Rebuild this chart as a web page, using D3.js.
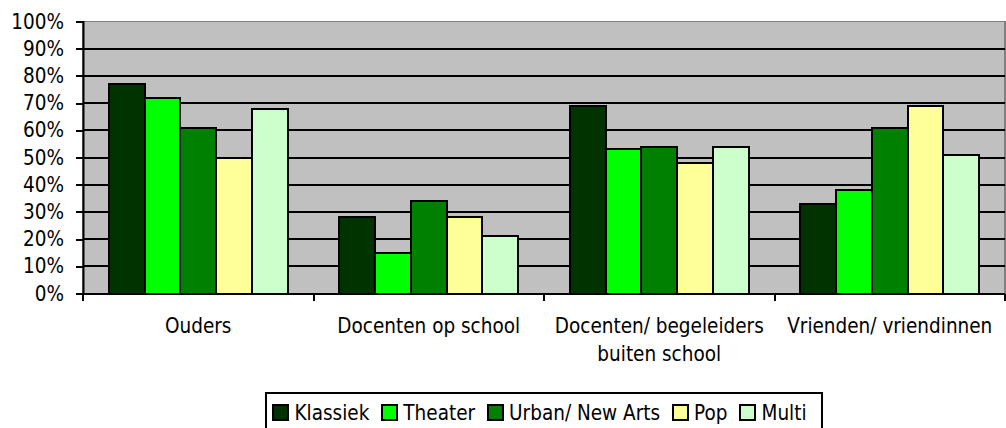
<!DOCTYPE html>
<html>
<head>
<meta charset="utf-8">
<script src="https://d3js.org/d3.v7.min.js"></script>
<style>
  body { margin: 0; background: #fff; }
  svg { display: block; }
  text { font-family: "DejaVu Sans Condensed", "DejaVu Sans", sans-serif; font-stretch: condensed; font-size: 20.5px; fill: #000; }
  line, .bar, .frame { shape-rendering: crispEdges; }
</style>
</head>
<body>
<svg width="1006" height="428"></svg>
<script>
// chart data
var categories = ["Ouders", "Docenten op school", "Docenten/ begeleiders buiten school", "Vrienden/ vriendinnen"];
var categoryLines = [["Ouders"], ["Docenten op school"], ["Docenten/ begeleiders", "buiten school"], ["Vrienden/ vriendinnen"]];
var series = ["Klassiek", "Theater", "Urban/ New Arts", "Pop", "Multi"];
var seriesColors = ["#003300", "#00ff00", "#008000", "#ffff99", "#ccffcc"];
var klassiek = [77, 28, 69, 33];
var theater = [72, 15, 53, 38];
var urban = [61, 34, 54, 61];
var pop = [50, 28, 48, 69];
var multi = [68, 21, 54, 51];
var yTicks = [0, 10, 20, 30, 40, 50, 60, 70, 80, 90, 100];

var values = [klassiek, theater, urban, pop, multi];

var svg = d3.select("svg"),
    margin = {top: 21.5, right: 1, bottom: 134.5, left: 83},
    width = +svg.attr("width") - margin.left - margin.right,
    height = +svg.attr("height") - margin.top - margin.bottom;

var g = svg.append("g")
    .attr("transform", "translate(" + margin.left + "," + margin.top + ")");

var x0 = d3.scaleBand().domain(categories).range([0, width]).padding(0);
var x1 = d3.scaleBand().domain(series).range([0, x0.bandwidth()]).paddingInner(0).paddingOuter(0.72);
var y = d3.scaleLinear().domain([0, 100]).range([height, 0]);

// plot background
g.append("rect")
    .attr("class", "frame")
    .attr("width", width)
    .attr("height", height)
    .attr("fill", "#c0c0c0")
    .attr("stroke", "#808080")
    .attr("stroke-width", 1.5);

// gridlines
g.selectAll(".grid")
    .data(yTicks.filter(function(d) { return d > 0 && d < 100; }))
    .enter().append("line")
    .attr("x1", 0)
    .attr("x2", width)
    .attr("y1", function(d) { return y(d); })
    .attr("y2", function(d) { return y(d); })
    .attr("stroke", "#000")
    .attr("stroke-width", 2);

// bars
var data = [];
categories.forEach(function(c, i) {
    series.forEach(function(s, j) {
        data.push({cat: c, ser: s, value: values[j][i], color: seriesColors[j]});
    });
});

g.selectAll(".bar")
    .data(data)
    .enter().append("rect")
    .attr("class", "bar")
    .attr("x", function(d) { return x0(d.cat) + x1(d.ser); })
    .attr("y", function(d) { return y(d.value); })
    .attr("width", x1.bandwidth())
    .attr("height", function(d) { return height - y(d.value); })
    .attr("fill", function(d) { return d.color; })
    .attr("stroke", "#000")
    .attr("stroke-width", 2);

// y axis
var yAxis = g.append("g")
    .call(d3.axisLeft(y).tickValues(yTicks).tickSize(7).tickPadding(12)
        .tickFormat(function(d) { return d + "%"; }));
yAxis.select(".domain").attr("stroke", "#000").attr("stroke-width", 2);
yAxis.selectAll(".tick line").attr("stroke", "#000").attr("stroke-width", 2);
yAxis.attr("font-size", null).attr("font-family", null);

// x axis
var xAxis = g.append("g")
    .attr("transform", "translate(0," + height + ")");
xAxis.append("line")
    .attr("x1", 0).attr("x2", width)
    .attr("stroke", "#000").attr("stroke-width", 2);
var bounds = categories.map(function(c) { return x0(c); }).concat([width]);
xAxis.selectAll(".xtick")
    .data(bounds)
    .enter().append("line")
    .attr("x1", function(d) { return d; })
    .attr("x2", function(d) { return d; })
    .attr("y1", 0).attr("y2", 7)
    .attr("stroke", "#000").attr("stroke-width", 2);

var labels = xAxis.selectAll(".xlabel")
    .data(categories)
    .enter().append("text")
    .attr("text-anchor", "middle")
    .attr("transform", function(d) { return "translate(" + (x0(d) + x0.bandwidth() / 2) + ",39.5)"; });
labels.selectAll("tspan")
    .data(function(d, i) { return categoryLines[i]; })
    .enter().append("tspan")
    .attr("x", 0)
    .attr("dy", function(d, i) { return i === 0 ? 0 : 28; })
    .text(function(d) { return d; });

// legend
var legend = svg.append("g");
var box = legend.append("rect")
    .attr("class", "frame")
    .attr("fill", "#fff")
    .attr("stroke", "#000")
    .attr("stroke-width", 2);
var lx = 7;
var items = legend.selectAll(".item")
    .data(series)
    .enter().append("g");
items.each(function(s, i) {
    var it = d3.select(this);
    it.append("rect")
        .attr("class", "bar")
        .attr("x", lx).attr("y", 12)
        .attr("width", 15).attr("height", 15)
        .attr("fill", seriesColors[i])
        .attr("stroke", "#000").attr("stroke-width", 2);
    var t = it.append("text")
        .attr("x", lx + 21).attr("y", 27)
        .text(s);
    lx += 21 + t.node().getComputedTextLength() + 13;
});
var boxW = lx + 2;
var legendX = margin.left + width / 2 - boxW / 2;
legend.attr("transform", "translate(" + legendX + ",393)");
box.attr("width", boxW).attr("height", 40);
</script>
</body>
</html>
